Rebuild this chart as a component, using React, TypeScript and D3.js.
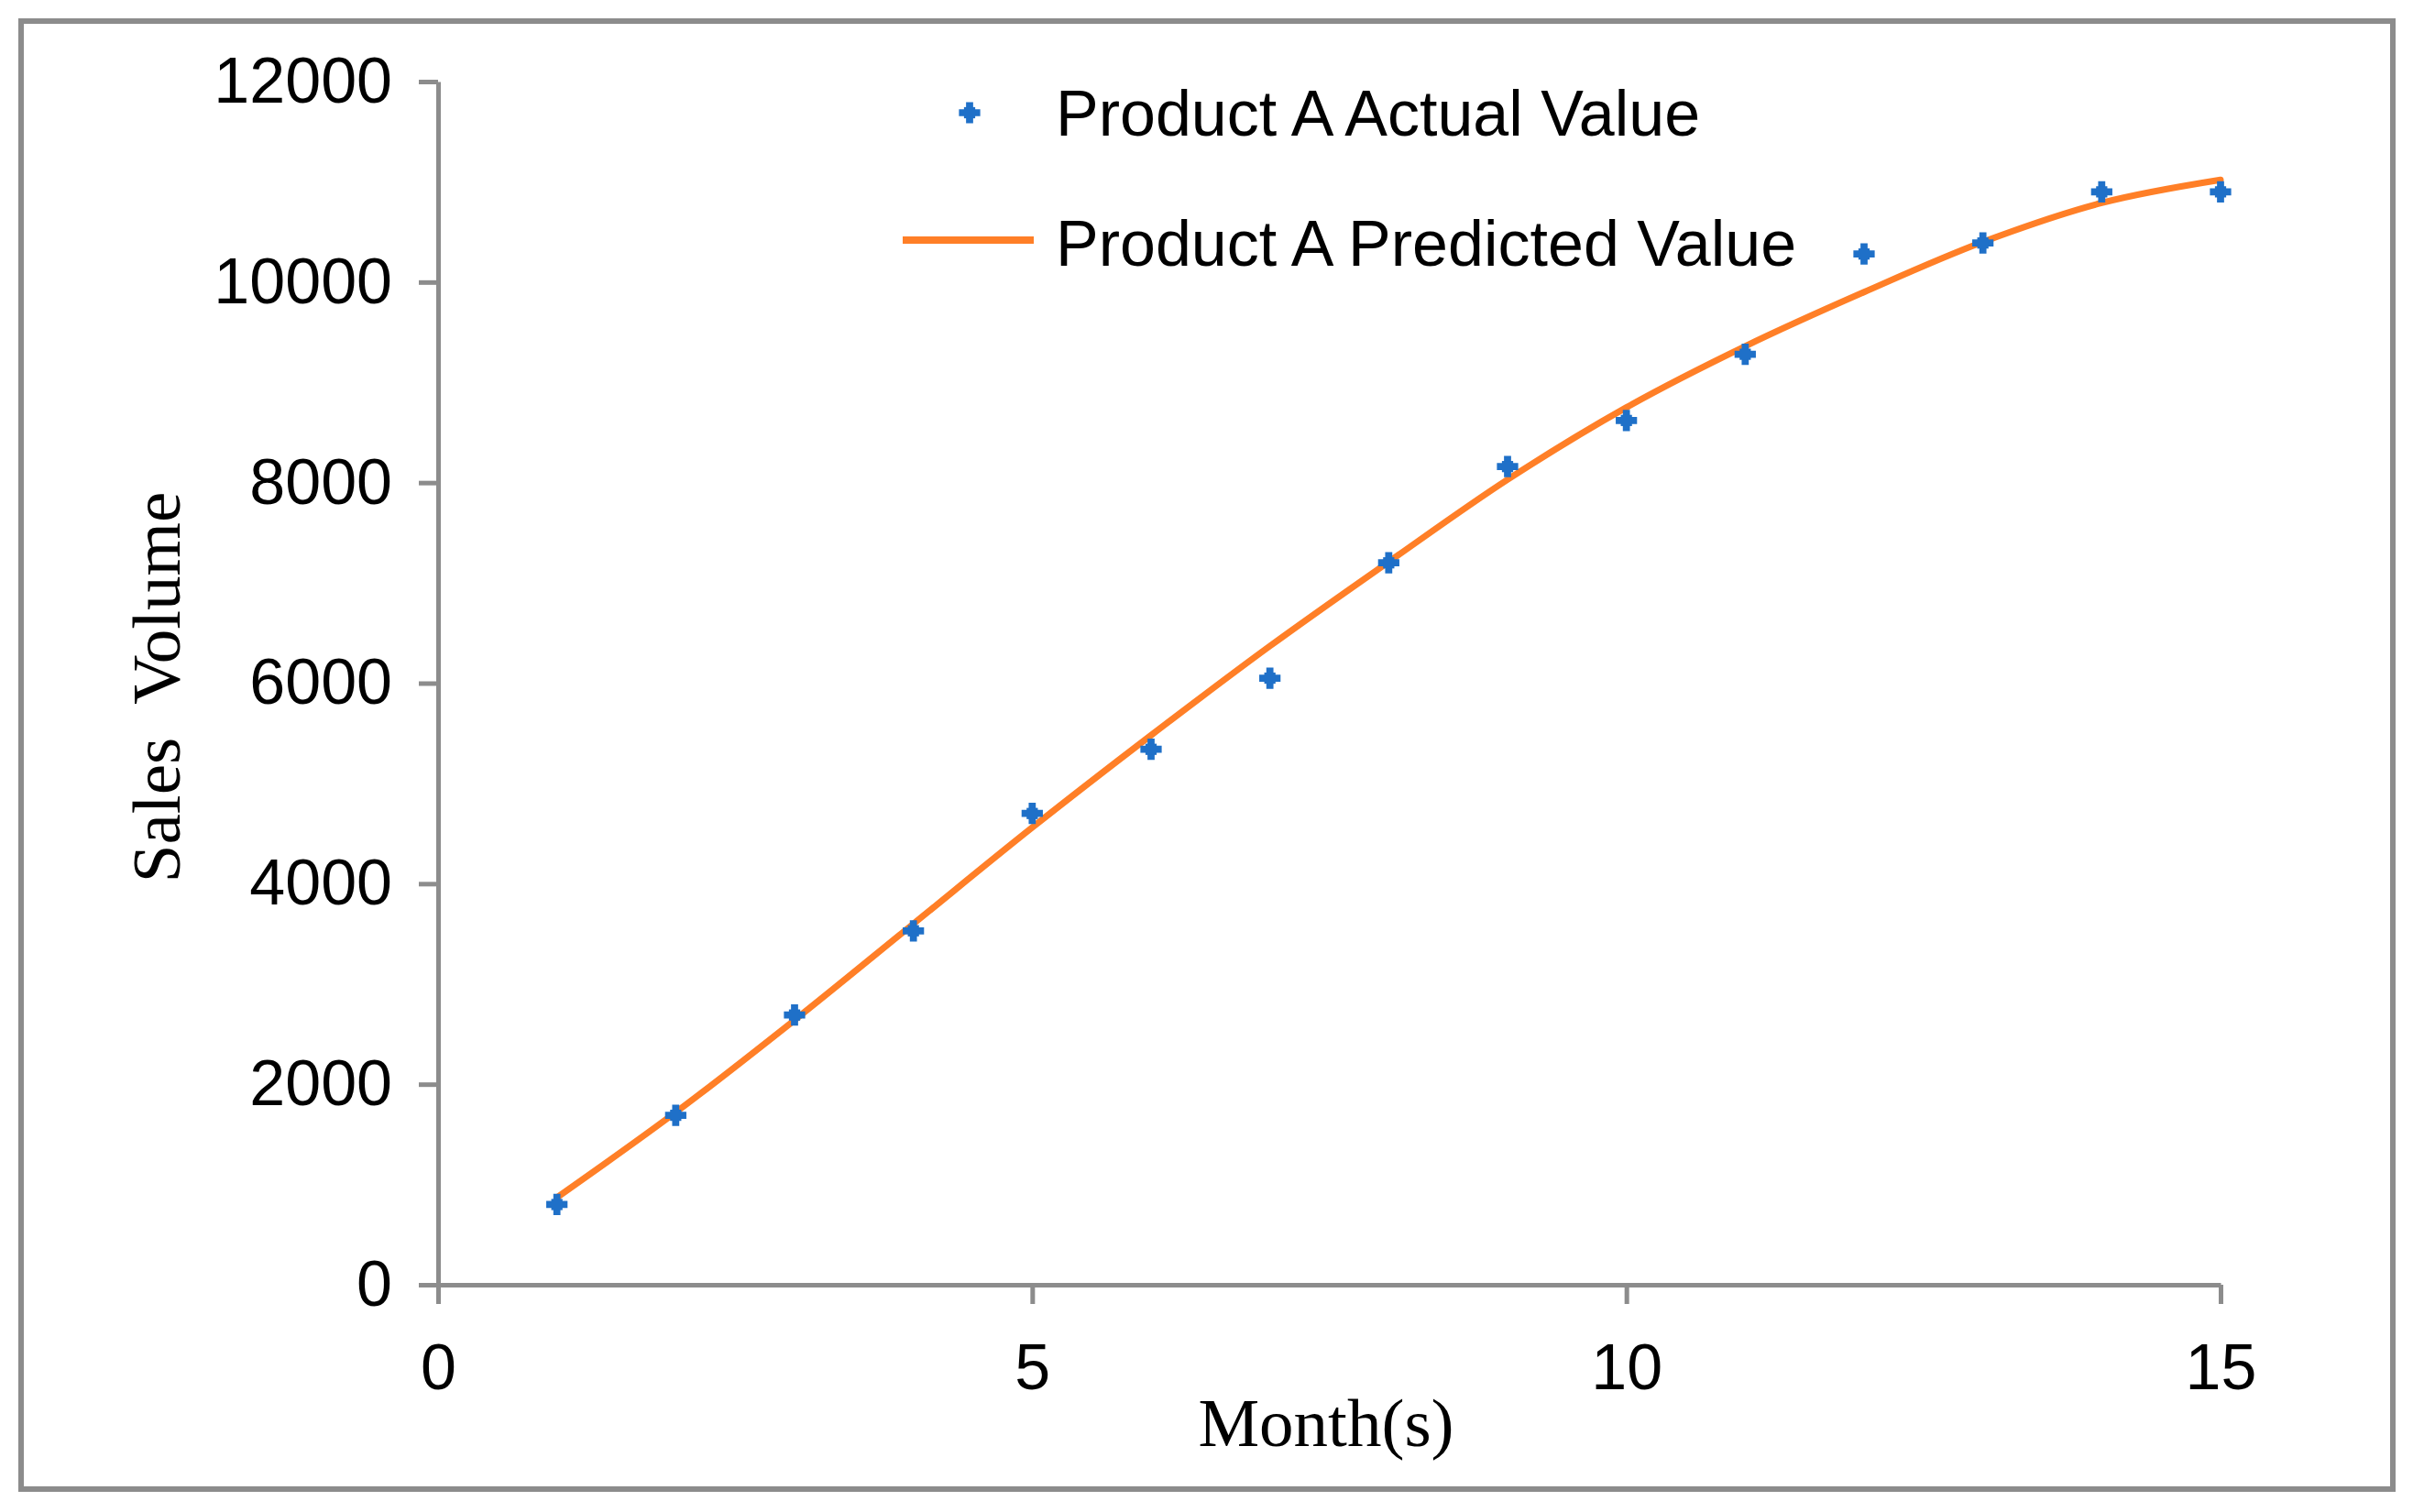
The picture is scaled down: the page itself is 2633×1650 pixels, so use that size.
import React, { useRef, useEffect } from 'react';
import * as d3 from 'd3';

// months 1..15
const months = [1, 2, 3, 4, 5, 6, 7, 8, 9, 10, 11, 12, 13, 14, 15];
const actualValues = [800, 1690, 2690, 3530, 4700, 5340, 6050, 7200, 8160, 8620, 9280, 10280, 10390, 10900, 10900];
const predictedValues = [870, 1720, 2640, 3600, 4560, 5480, 6370, 7210, 8030, 8750, 9360, 9900, 10400, 10790, 11020];
const xTicks = [0, 5, 10, 15];
const yTicks = [0, 2000, 4000, 6000, 8000, 10000, 12000];
const legendLabels = ['Product A Actual Value', 'Product A Predicted Value'];

const W = 2633;
const H = 1650;
const AXIS_GRAY = '#8c8c8c';
const BLUE = '#1f70c8';
const ORANGE = '#ff7f27';
const SANS = '"Liberation Sans", Arial, sans-serif';
const SERIF = '"Liberation Serif", "Times New Roman", serif';

const App: React.FC = () => {
  const svgRef = useRef<SVGSVGElement>(null);

  useEffect(() => {
    if (!svgRef.current) return;
    const svg = d3.select(svgRef.current);
    svg.selectAll('*').remove();

    const x = d3.scaleLinear().domain([0, 15]).range([478, 2423]);
    const y = d3.scaleLinear().domain([0, 12000]).range([1402, 89]);

    // outer frame
    svg.append('rect')
      .attr('x', 23).attr('y', 23)
      .attr('width', 2588).attr('height', 1602)
      .attr('fill', '#fff')
      .attr('stroke', AXIS_GRAY)
      .attr('stroke-width', 6);

    const xAxis = svg.append('g')
      .attr('transform', `translate(0,${y(0)})`)
      .call(d3.axisBottom(x).tickValues(xTicks).tickSize(21).tickPadding(43).tickSizeOuter(0));

    const yAxis = svg.append('g')
      .attr('transform', `translate(${x(0)},0)`)
      .call(d3.axisLeft(y).tickValues(yTicks).tickFormat(d3.format('d')).tickSize(21).tickPadding(29).tickSizeOuter(0));

    [xAxis, yAxis].forEach(ax => {
      ax.select('.domain').attr('stroke', AXIS_GRAY).attr('stroke-width', 5);
      ax.selectAll('.tick line').attr('stroke', AXIS_GRAY).attr('stroke-width', 5);
      ax.selectAll('.tick text')
        .attr('fill', '#000')
        .style('font-family', SANS)
        .style('font-size', '70px');
    });

    // axis titles
    svg.append('text')
      .attr('x', 1447).attr('y', 1578)
      .attr('text-anchor', 'middle')
      .style('font-family', SERIF)
      .style('font-size', '75px')
      .attr('fill', '#000')
      .text('Month(s)');

    svg.append('text')
      .attr('transform', `translate(196,750) rotate(-90)`)
      .attr('text-anchor', 'middle')
      .style('font-family', SERIF)
      .style('font-size', '75px')
      .style('white-space', 'pre')
      .attr('fill', '#000')
      .text('Sales  Volume');

    // predicted line
    const line = d3.line<number>()
      .x((_, i) => x(months[i]))
      .y(d => y(d))
      .curve(d3.curveCatmullRom.alpha(0.5));

    svg.append('path')
      .datum(predictedValues)
      .attr('d', line)
      .attr('fill', 'none')
      .attr('stroke', ORANGE)
      .attr('stroke-width', 7)
      .attr('stroke-linecap', 'round');

    // actual points: a chunky plus/diamond blob
    const cross = d3.symbol().type(d3.symbolCross).size(300)();
    const diamond = d3.symbol().type(d3.symbolSquare).size(150)();
    const drawMarker = (g: d3.Selection<SVGGElement, unknown, null, undefined>) => {
      g.append('path').attr('d', cross).attr('fill', BLUE);
      g.append('path').attr('d', diamond).attr('fill', BLUE);
    };

    const pts = svg.append('g');
    actualValues.forEach((v, i) => {
      const g = pts.append('g').attr('transform', `translate(${x(months[i])},${y(v)})`);
      drawMarker(g);
    });

    // legend
    const legend = svg.append('g');
    drawMarker(legend.append('g').attr('transform', 'translate(1058,123)'));
    legend.append('line')
      .attr('x1', 985).attr('x2', 1128)
      .attr('y1', 262).attr('y2', 262)
      .attr('stroke', ORANGE)
      .attr('stroke-width', 8);
    legend.selectAll('text')
      .data(legendLabels)
      .enter()
      .append('text')
      .attr('x', 1152)
      .attr('y', (_, i) => (i === 0 ? 123 : 265))
      .attr('dy', '0.36em')
      .style('font-family', SANS)
      .style('font-size', '70px')
      .attr('fill', '#000')
      .text(d => d);
  }, []);

  return (
    <div style={{ position: 'absolute', left: 0, top: 0, width: W, height: H, background: '#fff' }}>
      <svg ref={svgRef} width={W} height={H} style={{ display: 'block' }} />
    </div>
  );
};

export default App;
